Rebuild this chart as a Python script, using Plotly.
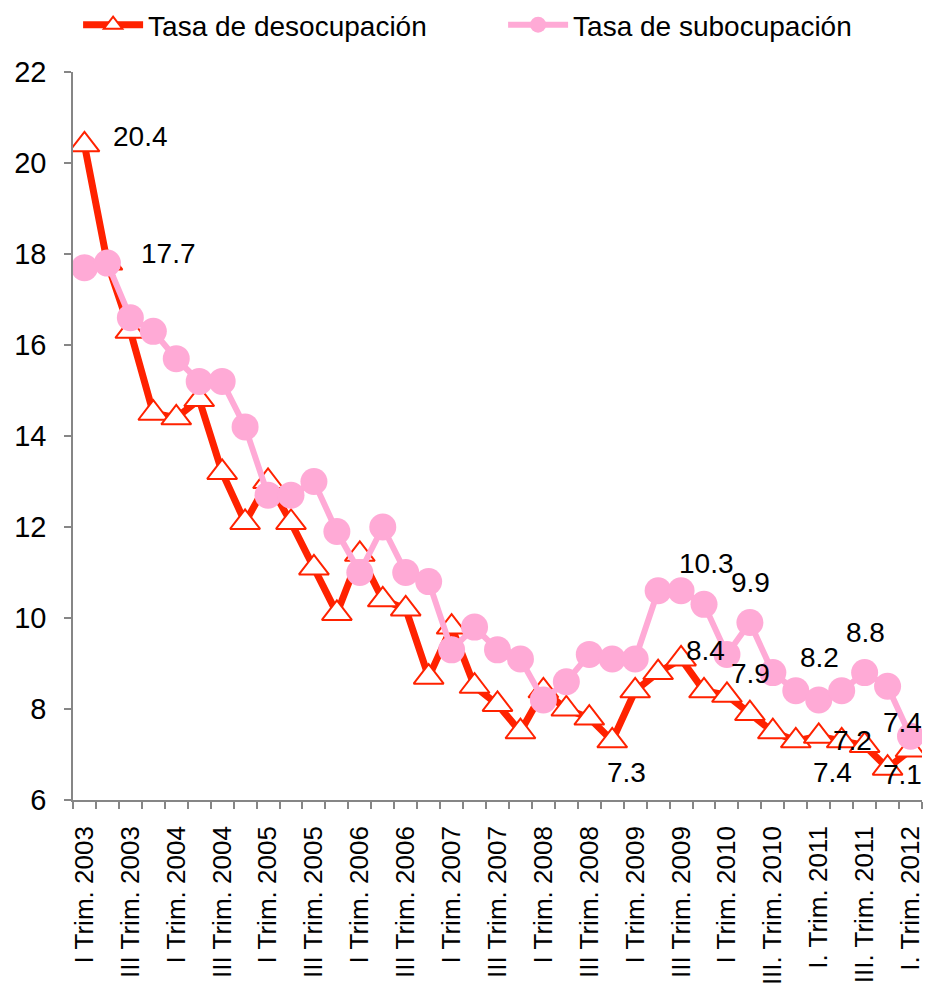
import plotly.graph_objects as go

quarters = []
for yr in range(2003, 2013):
    for q in ["I", "II", "III", "IV"]:
        quarters.append(f"{q} Trim. {yr}")
quarters = quarters[:37]

tick_labels = [
    "I Trim. 2003", "III Trim. 2003", "I Trim. 2004", "III Trim. 2004",
    "I Trim. 2005", "III Trim. 2005", "I Trim. 2006", "III Trim. 2006",
    "I Trim. 2007", "III Trim. 2007", "I Trim. 2008", "III Trim. 2008",
    "I Trim. 2009", "III Trim. 2009", "I Trim. 2010", "III. Trim. 2010",
    "I. Trim. 2011", "III. Trim. 2011", "I. Trim. 2012",
]

desocupacion = [20.4, 17.8, 16.3, 14.5, 14.4, 14.8, 13.2, 12.1, 13.0, 12.1,
                11.1, 10.1, 11.4, 10.4, 10.2, 8.7, 9.8, 8.5, 8.1, 7.5,
                8.4, 8.0, 7.8, 7.3, 8.4, 8.8, 9.1, 8.4, 8.3, 7.9,
                7.5, 7.3, 7.4, 7.3, 7.2, 6.7, 7.1]

subocupacion = [17.7, 17.8, 16.6, 16.3, 15.7, 15.2, 15.2, 14.2, 12.7, 12.7,
                13.0, 11.9, 11.0, 12.0, 11.0, 10.8, 9.3, 9.8, 9.3, 9.1,
                8.2, 8.6, 9.2, 9.1, 9.1, 10.6, 10.6, 10.3, 9.2, 9.9,
                8.8, 8.4, 8.2, 8.4, 8.8, 8.5, 7.4]

# labelled points: (index, xshift, yshift)
desoc_labels = [(0, 56, 8), (23, 14, -32), (27, 1, 40), (29, 1, 40),
                (32, 14, -36), (34, -12, 5), (36, -8, -25)]
subo_labels = [(0, 84, 14), (27, 2, 41), (29, 1, 40), (32, 1, 42),
               (34, 1, 40), (36, -8, 14)]

x = list(range(len(quarters)))
RED = "#FF2200"
PINK = "#FFAAD6"
FONT = "Arial, Liberation Sans, sans-serif"
AXIS = "#868686"

fig = go.Figure()
fig.add_trace(go.Scatter(
    x=x, y=desocupacion, name="Tasa de desocupación", mode="lines+markers",
    line=dict(color=RED, width=7),
    marker=dict(symbol="triangle-up", size=26, color="white",
                line=dict(color=RED, width=2)),
))
fig.add_trace(go.Scatter(
    x=x, y=subocupacion, name="Tasa de subocupación", mode="lines+markers",
    line=dict(color=PINK, width=6),
    marker=dict(symbol="circle", size=27, color=PINK),
))

annotations = []
for i, dx, dy in desoc_labels:
    annotations.append(dict(x=x[i], y=desocupacion[i], text=f"{desocupacion[i]}",
                            showarrow=False, xshift=dx, yshift=dy,
                            font=dict(family=FONT, size=28, color="black")))
for i, dx, dy in subo_labels:
    annotations.append(dict(x=x[i], y=subocupacion[i], text=f"{subocupacion[i]}",
                            showarrow=False, xshift=dx, yshift=dy,
                            font=dict(family=FONT, size=28, color="black")))

fig.update_layout(
    width=928, height=997,
    margin=dict(l=73, r=6, t=72, b=197, autoexpand=False),
    paper_bgcolor="white", plot_bgcolor="white",
    font=dict(family=FONT, size=28, color="black"),
    showlegend=True,
    legend=dict(orientation="h", x=0.006, y=1.0646, xanchor="left", yanchor="middle",
                font=dict(family=FONT, size=28, color="black"),
                entrywidth=350, entrywidthmode="pixels", itemwidth=60,
                bgcolor="rgba(0,0,0,0)"),
    annotations=annotations,
    xaxis=dict(
        range=[-0.5, len(quarters) - 0.5], showgrid=False, zeroline=False,
        showline=True, linecolor=AXIS, linewidth=1.5,
        tickmode="array", tickvals=x[::2], ticktext=tick_labels,
        ticks="", tickangle=-90, tickfont=dict(family=FONT, size=26),
        ticklabelstandoff=14,
        minor=dict(ticks="outside", ticklen=7, tickcolor=AXIS, tickwidth=1.5,
                   tick0=-0.5, dtick=1, showgrid=False),
    ),
    yaxis=dict(
        range=[6, 22], dtick=2, showgrid=False, zeroline=False,
        showline=True, linecolor=AXIS, linewidth=1.5,
        ticks="outside", ticklen=7, tickcolor=AXIS, tickwidth=1.5,
        tickfont=dict(family=FONT, size=29), ticklabelstandoff=12,
    ),
)

fig.write_html("out.html", config={"displayModeBar": False},
               post_script="document.body.style.margin='0';")
